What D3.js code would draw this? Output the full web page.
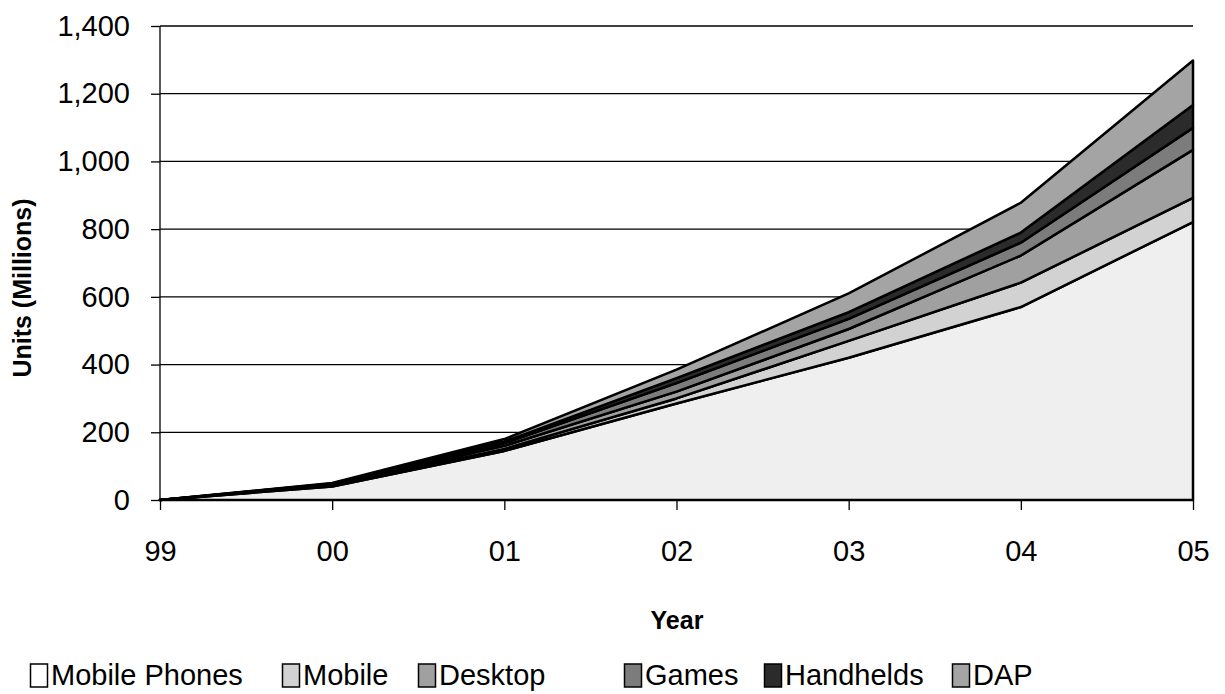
<!DOCTYPE html>
<html>
  <head>
    <meta charset="utf-8">
    <title>Units by year</title>
    <style>
      body { margin: 0; background: #fff; }
      text { font-family: Arial, "Liberation Sans", sans-serif; fill: #000; }
    </style>
  </head>
  <body>
    <script src="https://cdnjs.cloudflare.com/ajax/libs/d3/7.8.5/d3.min.js"></script>
    <svg id="chart" width="1225" height="694"></svg>
    <script>
      // data (millions of units)
      const years = ["99", "00", "01", "02", "03", "04", "05"]
      const series = ["Mobile Phones", "Mobile", "Desktop", "Games", "Handhelds", "DAP"]
      const mobilePhones = [0, 40, 145, 285, 420, 570, 821]
      const mobile       = [0, 3, 6, 15, 50, 72, 71]
      const desktop      = [0, 3, 9, 20, 35, 80, 142]
      const games        = [0, 2, 8, 25, 30, 38, 65]
      const handhelds    = [0, 1, 4, 15, 20, 30, 68]
      const dap          = [0, 1, 8, 25, 55, 88, 131]
      const yTicks = [0, 200, 400, 600, 800, 1000, 1200, 1400]

      const width = 1225, height = 694
      const margin = { top: 26, right: 32, bottom: 194, left: 160 }

      const fills = ["#efefef", "#d2d2d2", "#a0a0a0", "#7c7c7c", "#2b2b2b", "#a4a4a4"]
      const colors = d3.scaleOrdinal(series, fills)

      const table = years.map((y, i) => ({
        year: y,
        "Mobile Phones": mobilePhones[i],
        "Mobile": mobile[i],
        "Desktop": desktop[i],
        "Games": games[i],
        "Handhelds": handhelds[i],
        "DAP": dap[i]
      }))
      const stacked = d3.stack().keys(series)(table)

      const xScale = d3.scalePoint(years, [margin.left, width - margin.right])
      const yScale = d3.scaleLinear([0, 1400], [height - margin.bottom, margin.top])

      const svg = d3.select('#chart')

      // grid lines (sit behind the areas)
      svg.append('g')
        .selectAll('line')
        .data(yTicks.filter(d => d > 0))
        .join('line')
          .attr('x1', margin.left)
          .attr('x2', width - margin.right)
          .attr('y1', d => yScale(d))
          .attr('y2', d => yScale(d))
          .style('stroke', '#000')
          .style('stroke-width', 1.3)

      const area = d3.area()
        .x(d => xScale(d.data.year))
        .y0(d => yScale(d[0]))
        .y1(d => yScale(d[1]))

      svg.append('g')
        .selectAll('path')
        .data(stacked)
        .join('path')
          .attr('d', area)
          .style('fill', d => colors(d.key))
          .style('stroke', '#000')
          .style('stroke-width', 2.5)
          .style('stroke-linejoin', 'round')

      // y axis
      const yAxis = d3.axisLeft(yScale)
        .tickValues(yTicks)
        .tickSize(9)
        .tickPadding(21)
        .tickFormat(d3.format(','))
      const gy = svg.append('g')
        .attr('transform', `translate(${margin.left},0)`)
        .call(yAxis)
      gy.select('.domain').attr('d', `M0,${margin.top}V${height - margin.bottom}`).style('stroke-width', 1.3)
      gy.selectAll('.tick line').style('stroke-width', 1.3)
      gy.selectAll('text').style('font-size', '29px').style('font-family', 'Arial, "Liberation Sans", sans-serif')

      // x axis
      const xAxis = d3.axisBottom(xScale).tickSize(10).tickPadding(30)
      const gx = svg.append('g')
        .attr('transform', `translate(0,${height - margin.bottom})`)
        .call(xAxis)
      gx.select('.domain').attr('d', `M${margin.left},0H${width - margin.right}`).style('stroke-width', 2.2)
      gx.selectAll('.tick line').style('stroke-width', 1.3)
      gx.selectAll('text').style('font-size', '29px').style('font-family', 'Arial, "Liberation Sans", sans-serif')

      // axis titles
      svg.append('text')
        .attr('transform', 'translate(31,288) rotate(-90)')
        .attr('text-anchor', 'middle')
        .style('font-size', '25px')
        .style('font-weight', 'bold')
        .text('Units (Millions)')

      svg.append('text')
        .attr('x', 677)
        .attr('y', 629)
        .attr('text-anchor', 'middle')
        .style('font-size', '25px')
        .style('font-weight', 'bold')
        .text('Year')

      // legend
      const legendX = [30, 282, 418, 624, 764, 952]
      const legend = svg.append('g')
        .selectAll('g')
        .data(series)
        .join('g')
          .attr('transform', (d, i) => `translate(${legendX[i]},0)`)
      legend.append('rect')
        .attr('x', 0.5)
        .attr('y', 664)
        .attr('width', 17)
        .attr('height', 23)
        .style('fill', d => d === 'Mobile Phones' ? '#fff' : colors(d))
        .style('stroke', '#000')
        .style('stroke-width', 1.5)
      legend.append('text')
        .attr('x', 21)
        .attr('y', 685)
        .style('font-size', '29px')
        .text(d => d)
    </script>
  </body>
</html>
